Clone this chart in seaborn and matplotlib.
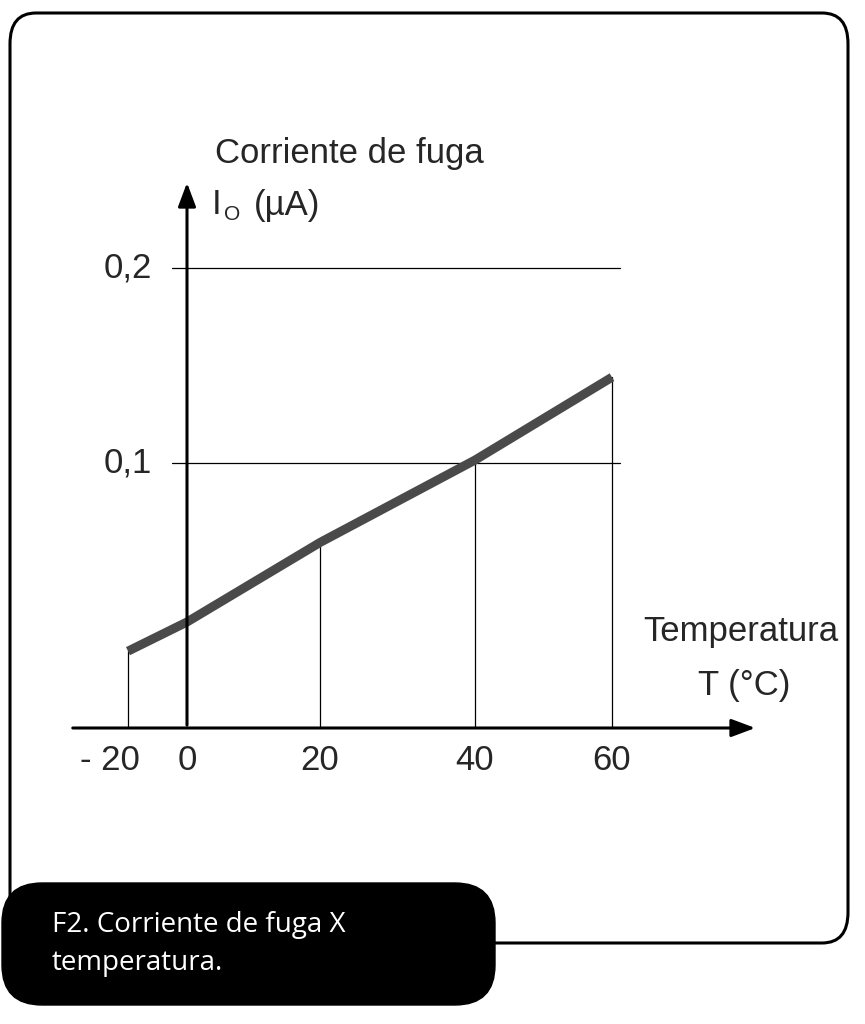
import numpy as np
import matplotlib
matplotlib.use("Agg")
import matplotlib.pyplot as plt
import seaborn as sns
from matplotlib.patches import FancyBboxPatch

sns.set_theme(style="white")
plt.rcParams['font.family'] = ['Liberation Sans', 'DejaVu Sans']

temps = [-20, 0, 20, 40, 60]
leak = [0.029, 0.040, 0.070, 0.1015, 0.144]
drop_temps = [-20, 20, 40, 60]
drop_vals = [0.029, 0.070, 0.1015, 0.144]
x_labels = ["- 20", "0", "20", "40", "60"]
y_ticks = [0.1, 0.2]
y_labels = ["0,1", "0,2"]

# drawing scale (the original figure is not linear)
x_ref = [-20, 0, 20, 40, 60]
x_px = [128, 187, 320, 475, 612]
y_ref = [0, 0.1, 0.2]
y_px = [0, 265, 460]

W, H = 865, 1024
fig = plt.figure(figsize=(W/100, H/100), dpi=100)
fig.patch.set_facecolor("white")

def fx(v): return np.interp(v, x_ref, x_px) / W
def fy(v): return (H - 728 + np.interp(v, y_ref, y_px)) / H

# outer rounded frame
fig.patches.append(FancyBboxPatch((10/W, (H-943)/H), 838/W, 930/H,
    boxstyle="round,pad=0,rounding_size=0.03", transform=fig.transFigure,
    fill=False, ec="black", lw=2.2))

ax = fig.add_axes([0, 0, 1, 1])
ax.set_xlim(0, W); ax.set_ylim(0, H); ax.axis("off")

def X(v): return np.interp(v, x_ref, x_px)
def Y(v): return H - 728 + np.interp(v, y_ref, y_px)

# grid lines
for t in y_ticks:
    ax.plot([172, 620], [Y(t), Y(t)], color="black", lw=0.9)
# drop lines
for t, v in zip(drop_temps, drop_vals):
    ax.plot([X(t), X(t)], [Y(0), Y(v)], color="black", lw=0.9)
# axes with arrows
ax.annotate("", xy=(758, Y(0)), xytext=(70, Y(0)),
            arrowprops=dict(arrowstyle="-|>,head_length=1.2,head_width=0.45", color="black", lw=2.2))
ax.annotate("", xy=(X(0), H-180), xytext=(X(0), Y(0)),
            arrowprops=dict(arrowstyle="-|>,head_length=1.2,head_width=0.45", color="black", lw=2.2))

# main line via seaborn
sns.lineplot(x=X(np.array(temps)), y=Y(np.array(leak)), ax=ax, color="#4a4a4a", lw=6.5,
             solid_capstyle="butt")

fs = 25
for t, lab in zip(temps, x_labels):
    ax.text(X(t) + (-18 if t == -20 else 0), H-760, lab, ha="center", va="center", fontsize=fs)
for t, lab in zip(y_ticks, y_labels):
    ax.text(152, Y(t), lab, ha="right", va="center", fontsize=fs)

ax.text(215, H-153, "Corriente de fuga", ha="left", va="center", fontsize=fs)
ax.text(212, H-205, "I", ha="left", va="center", fontsize=fs)
ax.text(224, H-214, "O", ha="left", va="center", fontsize=15)
ax.text(254, H-205, "(µA)", ha="left", va="center", fontsize=fs)
ax.text(838, H-632, "Temperatura", ha="right", va="center", fontsize=fs)
ax.text(790, H-685, "T (°C)", ha="right", va="center", fontsize=fs)

# caption box
ax.add_patch(FancyBboxPatch((2, H-1005), 493, 122,
    boxstyle="round,pad=0,rounding_size=40", fc="black", ec="black"))
ax.text(52, H-944, "F2. Corriente de fuga X\ntemperatura.", ha="left", va="center",
        fontsize=20, color="white", family=["Open Sans", "DejaVu Sans"], linespacing=1.5)

fig.savefig("out.png", dpi=100)
